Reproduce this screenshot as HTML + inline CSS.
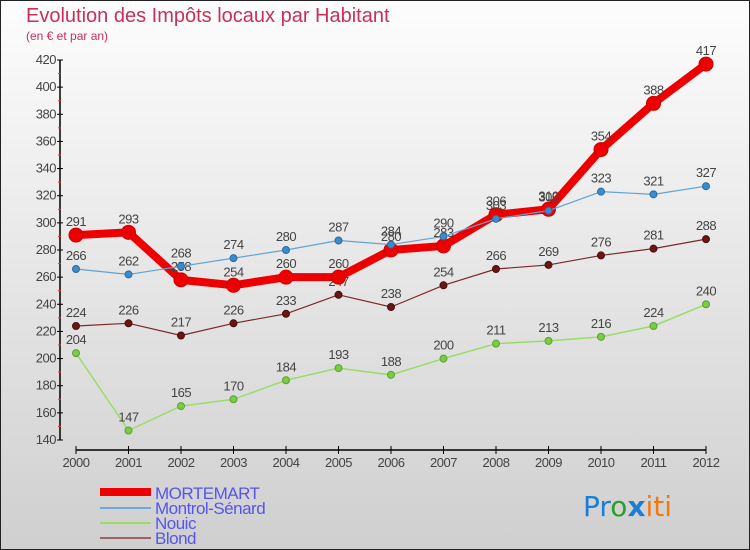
<!DOCTYPE html>
<html><head><meta charset="utf-8"><style>
body{margin:0}
svg{display:block;font-family:"Liberation Sans","DejaVu Sans",sans-serif}
</style></head><body>
<svg id="c" width="750" height="550">
<defs><linearGradient id="bg" x1="0" y1="0" x2="0" y2="1"><stop offset="0" stop-color="#fdfdfd"/><stop offset="1" stop-color="#cfcfcf"/></linearGradient></defs>
<rect x="0.5" y="0.5" width="749" height="549" fill="url(#bg)" stroke="#222"/>
<text x="26" y="22" font-size="20" fill="#c8305a">Evolution des Impôts locaux par Habitant</text>
<text x="26" y="40" font-size="12" fill="#c8305a">(en € et par an)</text>
<g id="axes"></g><g id="series"></g>
<g>
<rect x="100" y="488" width="51" height="8" fill="#e00"/>
<text x="155" y="499" font-size="17" fill="#5555ee" letter-spacing="-0.5">MORTEMART</text>
<line x1="100" y1="508" x2="151" y2="508" stroke="#6fa8dc" stroke-width="2"/>
<text x="155" y="514" font-size="17" fill="#5555ee" letter-spacing="-0.5">Montrol-Sénard</text>
<line x1="100" y1="523" x2="151" y2="523" stroke="#99dd66" stroke-width="2"/>
<text x="155" y="529" font-size="17" fill="#5555ee" letter-spacing="-0.5">Nouic</text>
<line x1="100" y1="538" x2="151" y2="538" stroke="#996666" stroke-width="2"/>
<text x="155" y="544" font-size="17" fill="#5555ee" letter-spacing="-0.5">Blond</text>
</g>
<text x="583" y="516" font-size="28" font-family="'DejaVu Sans',sans-serif"><tspan fill="#1a7fd4">Pr</tspan><tspan fill="#2aa02a">o</tspan><tspan fill="#1a7fd4" font-weight="bold">x</tspan><tspan fill="#f07a10">iti</tspan></text>
</svg>
<script>
const years=[2000,2001,2002,2003,2004,2005,2006,2007,2008,2009,2010,2011,2012];
const mortemart=[291,293,258,254,260,260,280,283,306,310,354,388,417];
const montrol=[266,262,268,274,280,287,284,290,303,309,323,321,327];
const nouic=[204,147,165,170,184,193,188,200,211,213,216,224,240];
const blond=[224,226,217,226,233,247,238,254,266,269,276,281,288];
const yTicks=[140,160,180,200,220,240,260,280,300,320,340,360,380,400,420];
const NS="http://www.w3.org/2000/svg";
const X=i=>76+i*52.5, Y=v=>60+(420-v)*380/280;
function mk(p,t,a){const e=document.createElementNS(NS,t);for(const k in a)e.setAttribute(k,a[k]);p.appendChild(e);return e;}
const ax=document.getElementById('axes'), sg=document.getElementById('series');
const yl=mk(ax,'line',{x1:60,y1:Y(420),x2:60,y2:Y(140),stroke:'#000','stroke-width':1.5});


const xl=mk(ax,'line',{x1:X(0),y1:450,x2:X(12),y2:450,stroke:'#000','stroke-width':1.5});


yTicks.forEach(v=>{
 mk(ax,'line',{x1:57,y1:Y(v),x2:63,y2:Y(v),stroke:'#000'});
 if(v<420) mk(ax,'line',{x1:58,y1:Y(v+10),x2:61,y2:Y(v+10),stroke:'#e33'});
 const t=mk(ax,'text',{x:56,y:Y(v)+4,'font-size':13,'text-anchor':'end',fill:'#444','letter-spacing':'-0.5'});
 t.textContent=v;
 
 
});
years.forEach((yr,i)=>{
 mk(ax,'line',{x1:X(i),y1:446,x2:X(i),y2:454,stroke:'#000'});
 const t=mk(ax,'text',{x:X(i),y:467,'font-size':13,'text-anchor':'middle',fill:'#444','letter-spacing':'-0.5'});
 t.textContent=yr;
 
 
});
function series(vals,name,col,w,r,dot,dotStroke){
 const g=mk(sg,'g',{});
 
 
 const pl=mk(g,'polyline',{points:vals.map((v,i)=>X(i)+','+Y(v)).join(' '),fill:'none',stroke:col,'stroke-width':w,'stroke-linejoin':'round'});
 
 
 vals.forEach((v,i)=>{
  const c=mk(g,'circle',{cx:X(i),cy:Y(v),r:r,fill:dot,stroke:dotStroke,'stroke-width':1});
  
  
  const t=mk(g,'text',{x:X(i),y:Y(v)-9,'font-size':13,'text-anchor':'middle',fill:'#444','letter-spacing':'-0.5'});
  t.textContent=v;
  
  
 });
}
series(blond,'blond','#7a2a2a',1.2,3.5,'#6b1515','#4a0e0e');
series(nouic,'nouic','#99dd66',1.5,3.5,'#7acc44','#5aa030');
series(mortemart,'mortemart','#ee0000',8,7,'#ee0000','#cc0000');
series(montrol,'montrol','#5fa3d8',1.2,3.5,'#3a8ccc','#2a6ca0');
</script>
</body></html>
